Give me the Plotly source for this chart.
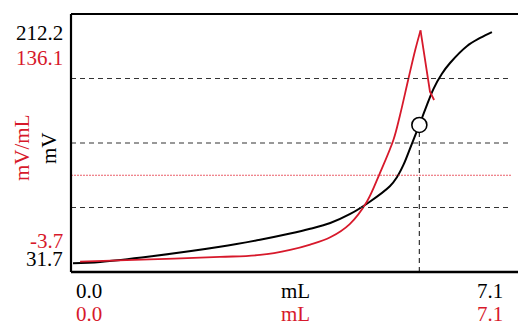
import plotly.graph_objects as go

# ------------------------------
# Data
# ------------------------------
ml_black = [0.00, 0.46, 1.30, 2.49, 3.17, 3.68, 4.02, 4.36, 4.69, 5.03, 5.37, 5.49, 5.60, 5.74,
            5.87, 5.97, 6.11, 6.25, 6.39, 6.68, 6.90, 7.10]
mv = [31.7, 32.8, 37.0, 44.5, 50.0, 54.8, 58.5, 63.0, 69.8, 79.5, 91.5, 98.5, 108.0, 124.0,
      139.0, 151.0, 167.0, 178.5, 187.0, 200.2, 206.4, 211.0]

ml_red = [0.12, 1.30, 2.49, 3.17, 3.68, 4.02, 4.36, 4.69, 4.98, 5.20, 5.43, 5.54, 5.68, 5.80,
          5.89, 5.97, 6.05, 6.12]
dmv = [-3.7, -2.4, -0.9, 0.3, 3.4, 6.6, 11.0, 19.0, 32.5, 49.7, 69.8, 84.5, 106.1, 124.2,
       136.1, 118.2, 99.0, 94.0]

endpoint_ml = 5.87
endpoint_mv = 139.0
grid_mv = [75, 125, 175]
ref_mv = 100

mv_min, mv_max = "31.7", "212.2"
dmv_min, dmv_max = "-3.7", "136.1"
ml_min, ml_max = "0.0", "7.1"

RED = "#d7192b"
FONT = "Liberation Serif, Times New Roman, serif"

W, H = 518, 325
L, R, T, B = 71, 0, 14, 53


def px(x):
    return (x - L) / (W - L - R)


def py(y):
    return 1 - (y - T) / (H - T - B)


# ------------------------------
# Figure
# ------------------------------
peak = dmv.index(max(dmv))

fig = go.Figure()
# rising side of the derivative is smooth, the falling side is a straight drop
fig.add_trace(go.Scatter(x=ml_red[:peak + 1], y=dmv[:peak + 1], mode="lines", yaxis="y2",
                         line=dict(color=RED, width=1.8, shape="spline", smoothing=1.0)))
fig.add_trace(go.Scatter(x=ml_red[peak:], y=dmv[peak:], mode="lines", yaxis="y2",
                         line=dict(color=RED, width=1.8)))
fig.add_trace(go.Scatter(x=ml_black, y=mv, mode="lines",
                         line=dict(color="black", width=2, shape="spline", smoothing=1.0)))
fig.add_trace(go.Scatter(x=[endpoint_ml], y=[endpoint_mv], mode="markers",
                         marker=dict(size=15, color="white", line=dict(color="black", width=1.6))))

shapes = []
for g in grid_mv:
    shapes.append(dict(type="line", xref="paper", yref="y", x0=0, x1=px(510), y0=g, y1=g,
                       line=dict(color="#333", width=1.2, dash="5px,4px")))
shapes.append(dict(type="line", xref="paper", yref="y", x0=0, x1=px(511), y0=ref_mv, y1=ref_mv,
                   line=dict(color="rgba(225,40,55,0.75)", width=1, dash="2px,1px")))
shapes.append(dict(type="line", xref="x", yref="y", x0=endpoint_ml, x1=endpoint_ml,
                   y0=25, y1=endpoint_mv, line=dict(color="#333", width=1.2, dash="5px,4px"),
                   layer="below"))
# frame
shapes.append(dict(type="line", xref="paper", yref="paper", x0=0, x1=0, y0=0, y1=1,
                   line=dict(color="black", width=2.2)))
shapes.append(dict(type="line", xref="paper", yref="paper", x0=0, x1=1, y0=1, y1=1,
                   line=dict(color="black", width=2.2)))
shapes.append(dict(type="line", xref="paper", yref="paper", x0=0, x1=1, y0=0, y1=0,
                   line=dict(color="black", width=2.6)))

annotations = []


def label(text, x, y, color, xanchor="center", angle=0):
    annotations.append(dict(text=text, x=px(x), y=py(y), xref="paper", yref="paper",
                            xanchor=xanchor, yanchor="middle", showarrow=False, textangle=angle,
                            font=dict(family=FONT, size=21, color=color)))


label(mv_max, 65, 33, "black", "right")
label(dmv_max, 65, 58, RED, "right")
label(dmv_min, 65, 241, RED, "right")
label(mv_min, 65, 259, "black", "right")
label("mV/mL", 22, 148, RED, angle=-90)
label("mV", 49, 148, "black", angle=-90)
label(ml_min, 89, 291, "black")
label(ml_min, 89, 314, RED)
label("mL", 295, 291, "black")
label("mL", 295, 314, RED)
label(ml_max, 490, 291, "black")
label(ml_max, 490, 314, RED)

fig.update_layout(
    width=W, height=H,
    margin=dict(l=L, r=R, t=T, b=B),
    plot_bgcolor="white", paper_bgcolor="white",
    showlegend=False,
    xaxis=dict(range=[-0.034, 7.542], visible=False, fixedrange=True),
    yaxis=dict(range=[25, 225], visible=False, fixedrange=True),
    yaxis2=dict(range=[-10, 146], visible=False, overlaying="y", fixedrange=True),
    shapes=shapes,
    annotations=annotations,
)

# page body has a default 8px margin; drop it so the figure sits at the window corner
fig.write_html("out.html", config={"displayModeBar": False},
               post_script="document.body.style.margin='0';")
